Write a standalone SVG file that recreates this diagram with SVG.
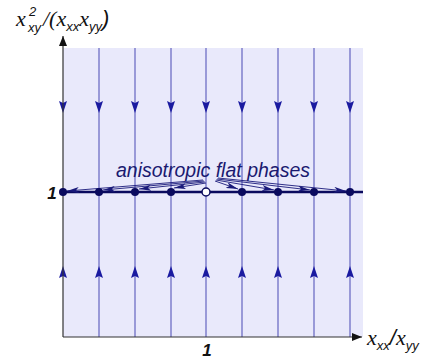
<svg xmlns="http://www.w3.org/2000/svg" width="431" height="360" viewBox="0 0 431 360">
<defs>
<style>
.flow{stroke:#6f6fc4;stroke-width:1.3;fill:none}
.ax{stroke:#333;stroke-width:1.2;fill:none}
.lbl{font-family:"Liberation Sans",Arial,sans-serif;font-style:italic;fill:#111}
.var{font-family:"Liberation Serif","Times New Roman",serif;font-style:italic;fill:#111}
.sm{font-family:"Liberation Sans",Arial,sans-serif;font-style:italic;fill:#111;font-size:13px}
.dot{fill:#0a0a5e}
.ptr{stroke:#1a1a7a;stroke-width:0.9;fill:none;marker-end:url(#ah)}
</style>
<marker id="ah" viewBox="0 0 12 6" refX="12" refY="3" markerWidth="12" markerHeight="6" markerUnits="userSpaceOnUse" orient="auto"><path d="M0,0 L12,3 L0,6 L3,3 Z" fill="#1a1a7a"/></marker>
<marker id="axh" viewBox="0 0 10 8" refX="10" refY="4" markerWidth="10" markerHeight="8" markerUnits="userSpaceOnUse" orient="auto"><path d="M0,0 L10,4 L0,8 Z" fill="#111"/></marker>
<path id="tri" d="M0,-7 L4,5 L0,3 L-4,5 Z" fill="#1a1aa0"/>
</defs>
<rect x="63" y="48" width="300" height="289" fill="#e9e9fb"/>
<g id="connectors">
<g class="flow">
<line x1="99" y1="48" x2="99" y2="337"/><line x1="135" y1="48" x2="135" y2="337"/><line x1="171" y1="48" x2="171" y2="337"/><line x1="206" y1="48" x2="206" y2="337"/><line x1="242" y1="48" x2="242" y2="337"/><line x1="278" y1="48" x2="278" y2="337"/><line x1="314" y1="48" x2="314" y2="337"/><line x1="350" y1="48" x2="350" y2="337"/>
</g>
<g>
<use href="#tri" transform="translate(63,106) rotate(180)"/><use href="#tri" transform="translate(99,106) rotate(180)"/><use href="#tri" transform="translate(135,106) rotate(180)"/><use href="#tri" transform="translate(171,106) rotate(180)"/><use href="#tri" transform="translate(206,106) rotate(180)"/><use href="#tri" transform="translate(242,106) rotate(180)"/><use href="#tri" transform="translate(278,106) rotate(180)"/><use href="#tri" transform="translate(314,106) rotate(180)"/><use href="#tri" transform="translate(350,106) rotate(180)"/>
<use href="#tri" transform="translate(63,273)"/><use href="#tri" transform="translate(99,273)"/><use href="#tri" transform="translate(135,273)"/><use href="#tri" transform="translate(171,273)"/><use href="#tri" transform="translate(206,273)"/><use href="#tri" transform="translate(242,273)"/><use href="#tri" transform="translate(278,273)"/><use href="#tri" transform="translate(314,273)"/><use href="#tri" transform="translate(350,273)"/>
</g>
<line class="ax" x1="63" y1="337" x2="63" y2="36" marker-end="url(#axh)"/>
<line class="ax" x1="63" y1="337" x2="362" y2="337" marker-end="url(#axh)"/>
<line x1="63" y1="192" x2="363" y2="192" stroke="#0a0a5e" stroke-width="2.6"/>
<g>
<line class="ptr" x1="203" y1="180" x2="67" y2="191"/>
<line class="ptr" x1="204" y1="181" x2="103" y2="190"/>
<line class="ptr" x1="205" y1="182" x2="139" y2="189"/>
<line class="ptr" x1="206" y1="183" x2="174" y2="188"/>
<line class="ptr" x1="215" y1="181" x2="238" y2="189"/>
<line class="ptr" x1="216" y1="180" x2="274" y2="190"/>
<line class="ptr" x1="217" y1="179" x2="310" y2="190"/>
<line class="ptr" x1="218" y1="178" x2="346" y2="191"/>
</g>
</g>
<g id="phases">
<circle class="dot" cx="63" cy="192" r="4"/><circle class="dot" cx="99" cy="192" r="4"/><circle class="dot" cx="135" cy="192" r="4"/><circle class="dot" cx="171" cy="192" r="4"/>
<circle cx="206" cy="192" r="4" fill="#fff" stroke="#0a0a5e" stroke-width="1.5"/>
<circle class="dot" cx="242" cy="192" r="4"/><circle class="dot" cx="278" cy="192" r="4"/><circle class="dot" cx="314" cy="192" r="4"/><circle class="dot" cx="350" cy="192" r="4"/>
</g>
<g id="labels">
<text x="213" y="177" text-anchor="middle" font-family="Liberation Sans,Arial,sans-serif" font-style="italic" font-size="19.5" fill="#1a1a70">anisotropic flat phases</text>
<text x="52" y="199" text-anchor="middle" class="lbl" font-size="17" font-weight="bold">1</text>
<text x="207" y="356" text-anchor="middle" class="lbl" font-size="17" font-weight="bold">1</text>
<text x="16" y="26" class="var" font-size="22">x</text>
<text x="29" y="16" class="sm">2</text>
<text x="28" y="32" class="sm">xy</text>
<text x="43" y="26" class="var" font-size="22">/(x<tspan font-family="Liberation Sans,sans-serif" font-size="13" dy="5">xx</tspan><tspan dy="-5">x</tspan><tspan font-family="Liberation Sans,sans-serif" font-size="13" dy="5">yy</tspan><tspan font-family="Liberation Sans,sans-serif" dy="-5">)</tspan></text>
<text x="367" y="345" class="var" font-size="22">x<tspan font-family="Liberation Sans,sans-serif" font-size="13" dy="5">xx</tspan><tspan font-family="Liberation Sans,sans-serif" dy="-5">/</tspan>x<tspan font-family="Liberation Sans,sans-serif" font-size="13" dy="5">yy</tspan></text>
</g>
</svg>
